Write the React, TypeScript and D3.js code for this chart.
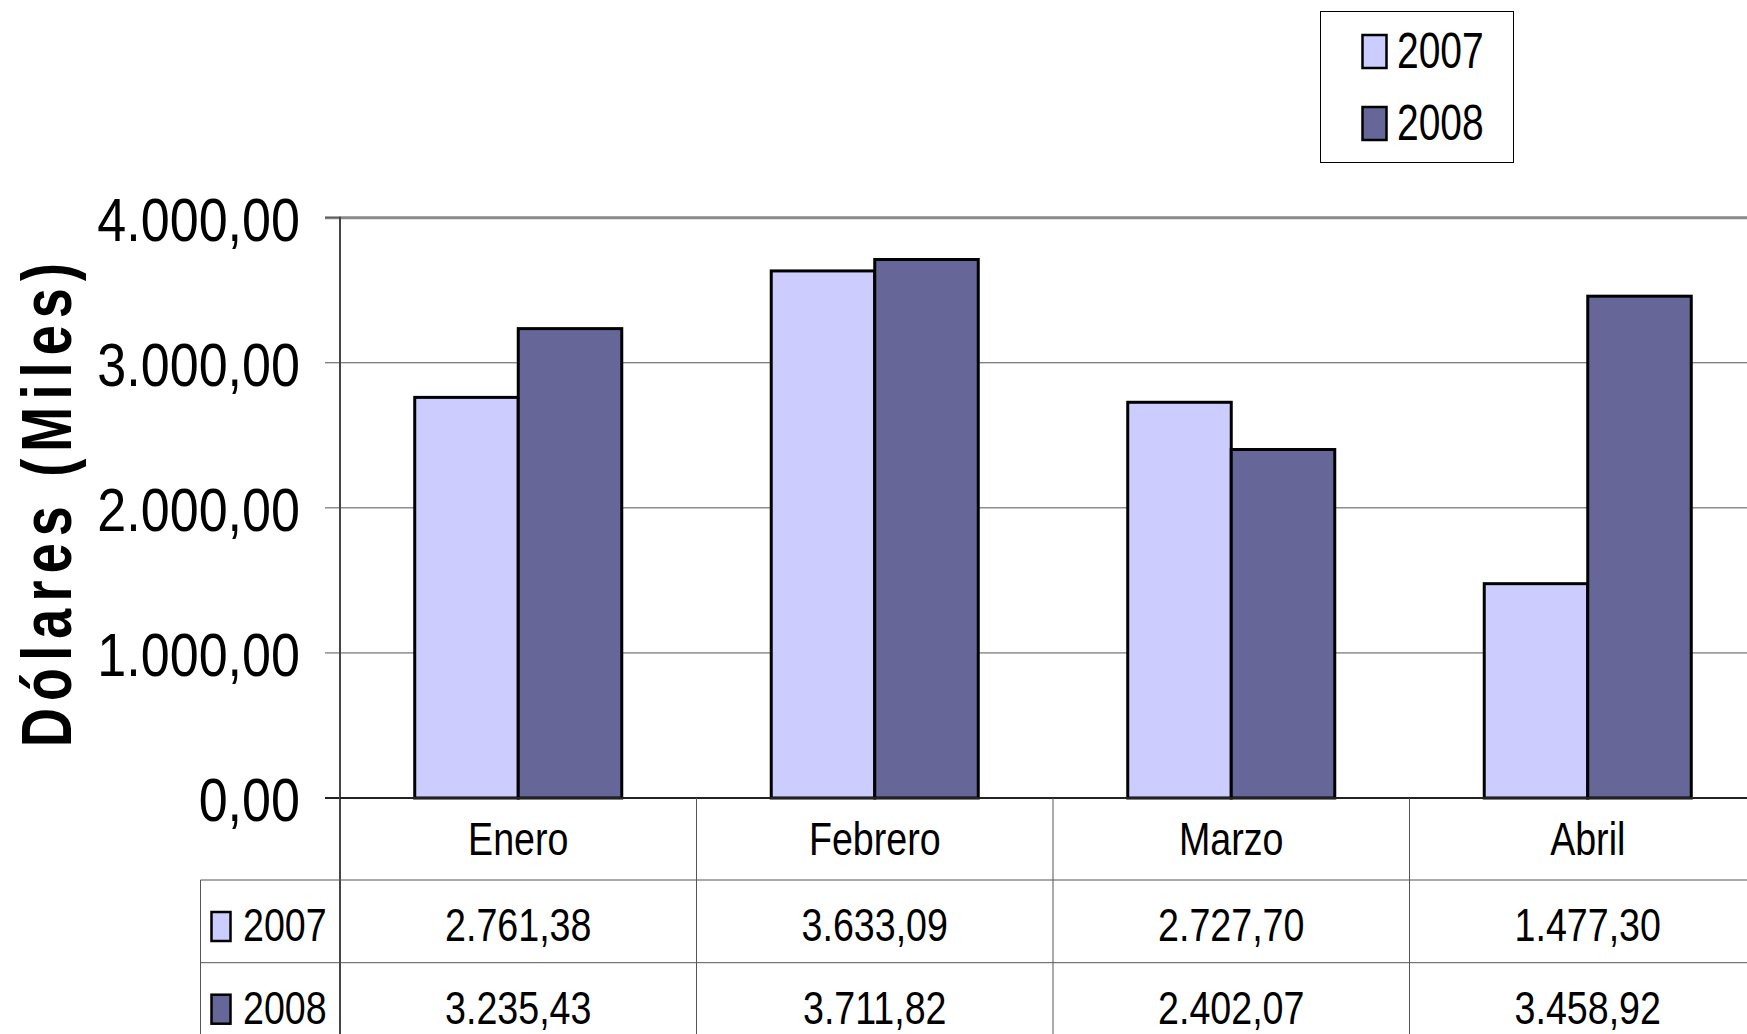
import React from "react";
import { scaleBand, scaleLinear, formatLocale } from "d3";

// chart data
const categories = ["Enero", "Febrero", "Marzo", "Abril"];
const seriesNames = ["2007", "2008"];
const values2007 = [2761.38, 3633.09, 2727.7, 1477.3];
const values2008 = [3235.43, 3711.82, 2402.07, 3458.92];
const yTicks = [0, 1000, 2000, 3000, 4000];
const seriesColors = ["#CCCCFF", "#666699"];
const yLabel = "Dólares (Miles)";

const W = 1747;
const H = 1034;
const FONT = "'Liberation Sans', Arial, sans-serif";

const fmt = formatLocale({
  decimal: ",",
  thousands: ".",
  grouping: [3],
  currency: ["", ""],
}).format(",.2f");

// condensed text, the original uses a narrow face
function NText({ x, y, size, anchor = "middle", sx = 0.8, bold = false, children }: any) {
  return (
    <text
      transform={`translate(${x},${y}) scale(${sx},1)`}
      fontSize={size}
      fontFamily={FONT}
      fontWeight={bold ? "bold" : "normal"}
      textAnchor={anchor}
      fill="#000"
    >
      {children}
    </text>
  );
}

export default function App() {
  const series = [values2007, values2008];

  const band = 356.5;
  const x = scaleBand()
    .domain(categories)
    .range([340, 340 + categories.length * band])
    .padding(0);
  const xs = scaleBand()
    .domain(seriesNames)
    .range([0, x.bandwidth()])
    .paddingInner(0)
    .paddingOuter(0.722);
  const y = scaleLinear().domain([0, 4000]).range([798, 217.7]);

  const plotLeft = x.range()[0];
  const plotRight = x.range()[1];
  const headerTop = y(0);
  const rowTop = [880, 962.7];
  const tableLeft = 200.5;

  return (
    <svg
      width={W}
      height={H}
      style={{ position: "absolute", left: 0, top: 0, display: "block", background: "#fff" }}
    >
      {/* gridlines + ticks */}
      {yTicks.map((t) => (
        <g key={t}>
          <line
            x1={plotLeft - 15}
            x2={plotRight}
            y1={y(t)}
            y2={y(t)}
            stroke={t === 0 ? "#222" : t === 4000 ? "#8a8a8a" : "#555"}
            strokeWidth={t === 0 ? 2 : t === 4000 ? 3 : 1}
          />
          <NText x={300} y={y(t) + 23} size={62} anchor="end" sx={0.84}>
            {fmt(t)}
          </NText>
        </g>
      ))}
      <line x1={plotLeft - 15} x2={plotLeft} y1={y(4000)} y2={y(4000)} stroke="#555" strokeWidth={1} />
      <line x1={plotLeft} x2={plotLeft} y1={y(4000) - 1} y2={H} stroke="#444" strokeWidth={2} />

      {/* bars */}
      {series.map((vals, si) =>
        categories.map((c, ci) => (
          <rect
            key={c + si}
            x={(x(c) as number) + (xs(seriesNames[si]) as number)}
            y={y(vals[ci])}
            width={xs.bandwidth()}
            height={y(0) - y(vals[ci])}
            fill={seriesColors[si]}
            stroke="#000"
            strokeWidth={3}
          />
        ))
      )}
      <line x1={plotLeft} x2={plotRight} y1={y(0)} y2={y(0)} stroke="#222" strokeWidth={2} />

      {/* data table */}
      {categories.map((c) => (
        <line
          key={"v" + c}
          x1={(x(c) as number) + band}
          x2={(x(c) as number) + band}
          y1={headerTop}
          y2={H}
          stroke="#555"
          strokeWidth={1}
        />
      ))}
      <line x1={tableLeft} x2={tableLeft} y1={rowTop[0]} y2={H} stroke="#555" strokeWidth={1} />
      {rowTop.map((r) => (
        <line key={"h" + r} x1={tableLeft} x2={plotRight} y1={r} y2={r} stroke="#555" strokeWidth={1} />
      ))}
      {categories.map((c) => (
        <NText key={"c" + c} x={(x(c) as number) + band / 2} y={headerTop + 57} size={47} sx={0.8}>
          {c}
        </NText>
      ))}
      {series.map((vals, si) => (
        <g key={"row" + si}>
          <rect
            x={211.5}
            y={rowTop[si] + 61 - 29}
            width={19}
            height={29}
            fill={seriesColors[si]}
            stroke="#000"
            strokeWidth={2.5}
          />
          <NText x={243} y={rowTop[si] + 61} size={47} anchor="start" sx={0.8}>
            {seriesNames[si]}
          </NText>
          {categories.map((c, ci) => (
            <NText key={c} x={(x(c) as number) + band / 2} y={rowTop[si] + 61} size={47} sx={0.8}>
              {fmt(vals[ci])}
            </NText>
          ))}
        </g>
      ))}

      {/* y axis title */}
      <text
        transform={`translate(71,505) rotate(-90) scale(0.76,1)`}
        fontSize={71}
        fontFamily={FONT}
        fontWeight="bold"
        textAnchor="middle"
        textLength={484 / 0.76}
        lengthAdjust="spacing"
      >
        {yLabel}
      </text>

      {/* legend */}
      <rect x={1320.5} y={11.5} width={193} height={151} fill="#fff" stroke="#000" strokeWidth={1} />
      {seriesNames.map((s, i) => {
        const base = 68 + i * 72;
        return (
          <g key={"lg" + s}>
            <rect
              x={1362.5}
              y={base - 33}
              width={24}
              height={33}
              fill={seriesColors[i]}
              stroke="#000"
              strokeWidth={2.5}
            />
            <NText x={1397} y={base} size={50} anchor="start" sx={0.78}>
              {s}
            </NText>
          </g>
        );
      })}
    </svg>
  );
}
